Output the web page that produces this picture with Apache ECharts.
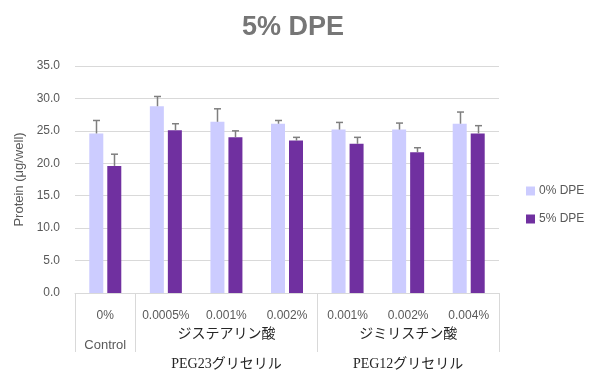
<!DOCTYPE html>
<html>
<head>
<meta charset="utf-8">
<script src="https://cdn.jsdelivr.net/npm/echarts@6/dist/echarts.min.js"></script>
<style>html,body{margin:0;padding:0;background:#fff}#c{width:600px;height:376px}</style>
</head>
<body>
<div id="c"></div>
<script>
var categories = ['0%', '0.0005%', '0.001%', '0.002%', '0.001%', '0.002%', '0.004%'];
var groupLabels = ['Control', '', 'ジステアリン酸\nPEG23グリセリル', '', '', 'ジミリスチン酸\nPEG12グリセリル', ''];
var seriesNames = ['0% DPE', '5% DPE'];
var dpe0 = [24.6, 28.8, 26.4, 26.1, 25.2, 25.2, 26.1];
var dpe0Err = [2.0, 1.5, 2.0, 0.5, 1.1, 1.0, 1.8];
var dpe5 = [19.6, 25.1, 24.0, 23.5, 23.0, 21.7, 24.6];
var dpe5Err = [1.8, 1.0, 1.0, 0.5, 1.0, 0.7, 1.2];
var yTicks = [0, 5, 10, 15, 20, 25, 30, 35];

var BAR_W = 14, GAP = 4;
var FONT = '"Liberation Sans", Arial, sans-serif';
var GREY = '#595959';

function errSeries(vals, errs, sign) {
  return {
    type: 'custom',
    name: 'err' + sign,
    xAxisIndex: 0,
    z: 5,
    data: vals.map(function (v, i) { return [i, v, errs[i]]; }),
    renderItem: function (params, api) {
      var i = api.value(0), v = api.value(1), e = api.value(2);
      var b = api.coord([i, v]);
      var t = api.coord([i, v + e]);
      var x = Math.round(b[0] + sign * (BAR_W + GAP) / 2) + 0.5;
      var st = { stroke: '#7f7f7f', lineWidth: 1.5 };
      return {
        type: 'group',
        children: [
          { type: 'line', shape: { x1: x, y1: b[1], x2: x, y2: t[1] }, style: st },
          { type: 'line', shape: { x1: x - 3.5, y1: t[1], x2: x + 3.5, y2: t[1] }, style: st }
        ]
      };
    },
    silent: true
  };
}

var chart = echarts.init(document.getElementById('c'));
chart.setOption({
  animation: false,
  title: {
    text: '5% DPE',
    left: 237,
    top: 9,
    textStyle: { fontFamily: FONT, fontSize: 27, fontWeight: 'bold', color: '#767676' }
  },
  legend: {
    data: seriesNames,
    orient: 'vertical',
    left: 521,
    top: 180,
    icon: 'rect',
    itemWidth: 9,
    itemHeight: 9,
    itemGap: 16,
    textStyle: { fontFamily: FONT, fontSize: 12, color: GREY, padding: [0, 0, 0, -1] }
  },
  grid: { left: 75, right: 101, top: 66, bottom: 83, containLabel: false },
  xAxis: [{
    type: 'category',
    data: categories,
    position: 'bottom',
    axisLine: { show: true, lineStyle: { color: '#d9d9d9', width: 1 } },
    axisTick: { show: false },
    axisLabel: { interval: 0, margin: 17, fontFamily: FONT, fontSize: 12, color: GREY }
  }, {
    type: 'category',
    data: groupLabels,
    position: 'bottom',
    axisLine: { show: false },
    axisTick: {
      show: true,
      length: 59,
      interval: function (i) { return i === 0 || i === 1 || i === 4; },
      lineStyle: { color: '#d9d9d9', width: 1 }
    },
    axisLabel: {
      interval: 0,
      margin: 26,
      formatter: function (v) {
        if (!v) return '';
        if (v === 'Control') return '{c|Control}';
        var p = v.split('\n');
        return '{g|' + p[0] + '}\n{p|' + p[1] + '}';
      },
      rich: {
        c: { fontFamily: FONT, fontSize: 13, color: GREY, lineHeight: 52 },
        g: { fontFamily: '"Liberation Serif", "Noto Sans CJK JP", serif', fontSize: 14, color: '#262626', lineHeight: 30 },
        p: { fontFamily: '"Liberation Serif", "Noto Sans CJK JP", serif', fontSize: 14, color: '#262626', lineHeight: 30 }
      }
    }
  }],
  yAxis: {
    type: 'value',
    min: yTicks[0],
    max: yTicks[yTicks.length - 1],
    interval: 5,
    name: 'Protein (μg/well)',
    nameLocation: 'middle',
    nameGap: 46,
    nameTextStyle: { fontFamily: FONT, fontSize: 13, color: GREY },
    axisLine: { show: false },
    axisTick: { show: false },
    axisLabel: {
      margin: 15,
      fontFamily: FONT, fontSize: 12, color: GREY,
      formatter: function (v) { return v.toFixed(1); }
    },
    splitLine: { lineStyle: { color: '#d9d9d9', width: 1 } }
  },
  series: [{
    type: 'bar',
    name: seriesNames[0],
    data: dpe0,
    barWidth: BAR_W,
    barGap: (GAP / BAR_W * 100) + '%',
    itemStyle: { color: '#CCCCFF' }
  }, {
    type: 'bar',
    name: seriesNames[1],
    data: dpe5,
    barWidth: BAR_W,
    itemStyle: { color: '#7030A0' }
  },
  errSeries(dpe0, dpe0Err, -1),
  errSeries(dpe5, dpe5Err, 1)
  ]
});
</script>
</body>
</html>
